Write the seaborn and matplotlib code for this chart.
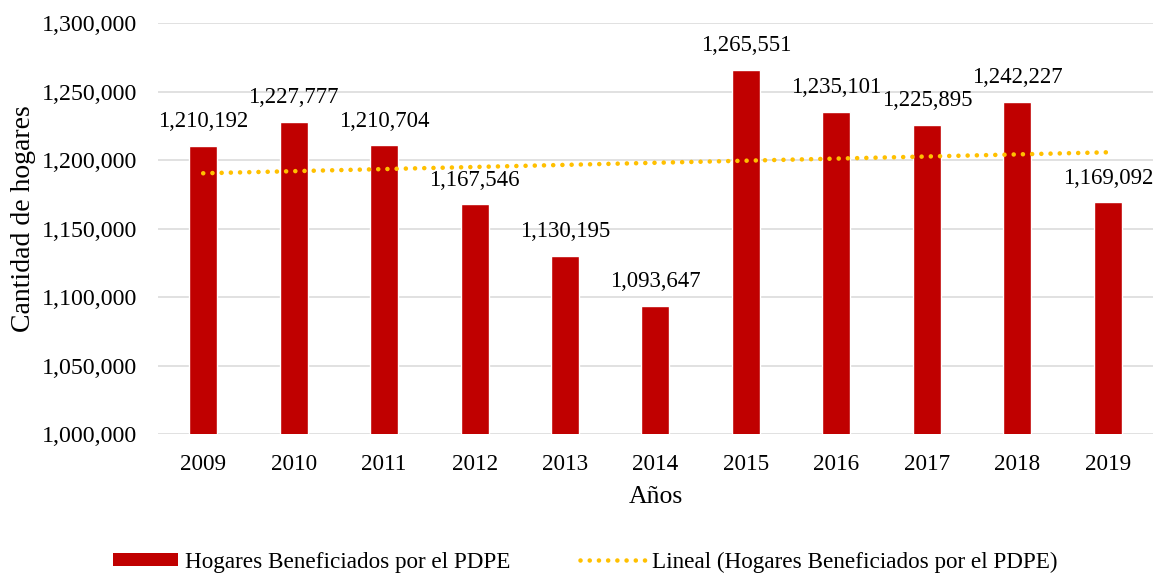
import numpy as np
import pandas as pd
import matplotlib
matplotlib.use("Agg")
import matplotlib.pyplot as plt
import seaborn as sns
from matplotlib.patches import Patch
from matplotlib.lines import Line2D
from matplotlib.ticker import FuncFormatter

# data
years = ["2009", "2010", "2011", "2012", "2013", "2014", "2015", "2016", "2017", "2018", "2019"]
hogares = [1210192, 1227777, 1210704, 1167546, 1130195, 1093647, 1265551, 1235101, 1225895, 1242227, 1169092]
bar_label = "Hogares Beneficiados por el PDPE"
trend_label = "Lineal (Hogares Beneficiados por el PDPE)"

RED = "#C00000"
GOLD = "#FFC000"
DOTS = (0, (0.01, 2.0))

sns.set_theme(style="whitegrid", rc={"grid.color": "#D9D9D9", "grid.linewidth": 1.1})
plt.rcParams["font.family"] = ["Liberation Serif", "DejaVu Serif"]
plt.rcParams["text.color"] = "black"

df = pd.DataFrame({"year": years, "hogares": hogares})

fig = plt.figure(figsize=(11.59, 5.76), dpi=100)
ax = fig.add_axes([0.1363, 0.2465, 0.8585, 0.7135])

sns.barplot(data=df, x="year", y="hogares", color=RED, saturation=1, width=0.31, ax=ax)

# Excel-style linear trendline
xs = np.arange(len(years))
slope, intercept = np.polyfit(xs + 1, np.array(hogares, dtype=float), 1)
trend = slope * (xs + 1) + intercept
ax.plot(xs, trend, color=GOLD, lw=3.3, linestyle=DOTS, dash_capstyle="round", zorder=3)

for i, v in enumerate(hogares):
    ax.annotate(f"{v:,}", (i, v), xytext=(0, 17.5), textcoords="offset points",
                ha="center", va="center", fontsize=16.4, color="black")

ax.set_ylim(1000000, 1300000)
ax.set_xlim(-0.5, len(years) - 0.5)
ax.set_yticks(np.arange(1000000, 1300001, 50000))
ax.yaxis.set_major_formatter(FuncFormatter(lambda v, p: f"{v:,.0f}"))
ax.grid(axis="x", visible=False)
ax.grid(axis="y", visible=True)
for s in ax.spines.values():
    s.set_visible(False)
ax.tick_params(axis="both", length=0, colors="black")
ax.tick_params(axis="x", pad=14.5, labelsize=16.7)
ax.tick_params(axis="y", pad=15, labelsize=17.2)

ax.set_xlabel("Años", fontsize=18.5, color="black")
ax.xaxis.set_label_coords(0.5, -0.153)
ax.xaxis.label.set_va("center")
ax.set_ylabel("Cantidad de hogares", fontsize=20, color="black")
ax.yaxis.set_label_coords(-0.1347, 0.525)
ax.yaxis.label.set_va("center")

handles = [Patch(facecolor=RED, edgecolor="none", label=bar_label),
           Line2D([0], [0], color=GOLD, lw=3.3, linestyle=DOTS,
                  dash_capstyle="round", label=trend_label)]
fig.legend(handles=handles, loc="center", bbox_to_anchor=(0.505, 0.024), ncol=2,
           frameon=False, fontsize=16.7, handlelength=2.8, handleheight=0.5,
           handletextpad=0.3, columnspacing=3.0, borderpad=0.2)

fig.savefig("out.png", dpi=100)
